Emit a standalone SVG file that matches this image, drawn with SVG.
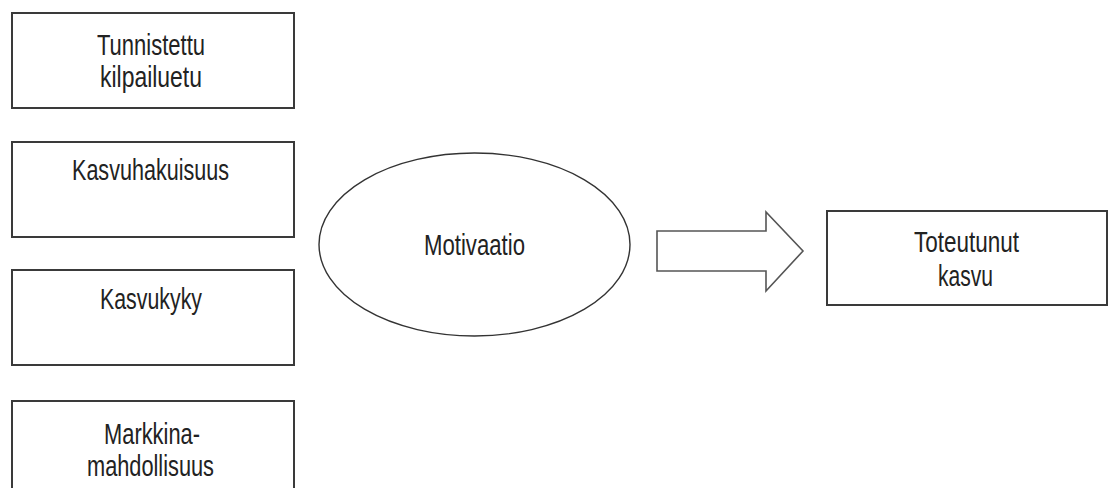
<svg xmlns="http://www.w3.org/2000/svg" width="1108" height="488" viewBox="0 0 1108 488">
  <style>
    .box { fill: #ffffff; stroke: #3a3a3a; stroke-width: 2; }
    .oval { fill: #ffffff; stroke: #333333; stroke-width: 1.4; }
    .arrow { fill: #ffffff; stroke: #555555; stroke-width: 1.6; stroke-linejoin: miter; }
    .lbl { font-family: "Liberation Sans", Arial, sans-serif; font-size: 30px; fill: #222222; font-stretch: condensed; }
  </style>
  <rect width="1108" height="488" fill="#ffffff"/>

  <g id="node-tunnistettu">
    <rect class="box" x="12" y="13" width="282" height="95"/>
    <text class="lbl" x="97" y="55" textLength="108" lengthAdjust="spacingAndGlyphs">Tunnistettu</text>
    <text class="lbl" x="100" y="87" textLength="102" lengthAdjust="spacingAndGlyphs">kilpailuetu</text>
  </g>

  <g id="node-kasvuhakuisuus">
    <rect class="box" x="12" y="142" width="282" height="95"/>
    <text class="lbl" x="72" y="180" textLength="157" lengthAdjust="spacingAndGlyphs">Kasvuhakuisuus</text>
  </g>

  <g id="node-kasvukyky">
    <rect class="box" x="12" y="270" width="282" height="95"/>
    <text class="lbl" x="100" y="309" textLength="102" lengthAdjust="spacingAndGlyphs">Kasvukyky</text>
  </g>

  <g id="node-markkinamahdollisuus">
    <rect class="box" x="12" y="401" width="282" height="100"/>
    <text class="lbl" x="104" y="444" textLength="96" lengthAdjust="spacingAndGlyphs">Markkina-</text>
    <text class="lbl" x="87" y="476" textLength="127" lengthAdjust="spacingAndGlyphs">mahdollisuus</text>
  </g>

  <g id="node-motivaatio">
    <ellipse class="oval" cx="474.5" cy="244.5" rx="155.5" ry="91.5"/>
    <text class="lbl" x="424" y="255" textLength="101" lengthAdjust="spacingAndGlyphs">Motivaatio</text>
  </g>

  <g id="node-toteutunut">
    <rect class="box" x="827" y="211" width="280" height="94"/>
    <text class="lbl" x="914" y="252" textLength="105" lengthAdjust="spacingAndGlyphs">Toteutunut</text>
    <text class="lbl" x="938" y="286" textLength="55" lengthAdjust="spacingAndGlyphs">kasvu</text>
  </g>

  <g id="connectors">
    <!-- block arrow from the oval to the outcome box -->
    <polygon class="arrow" points="657,231 766,231 766,212 803,251 766,291 766,271 657,271"/>
  </g>
</svg>
